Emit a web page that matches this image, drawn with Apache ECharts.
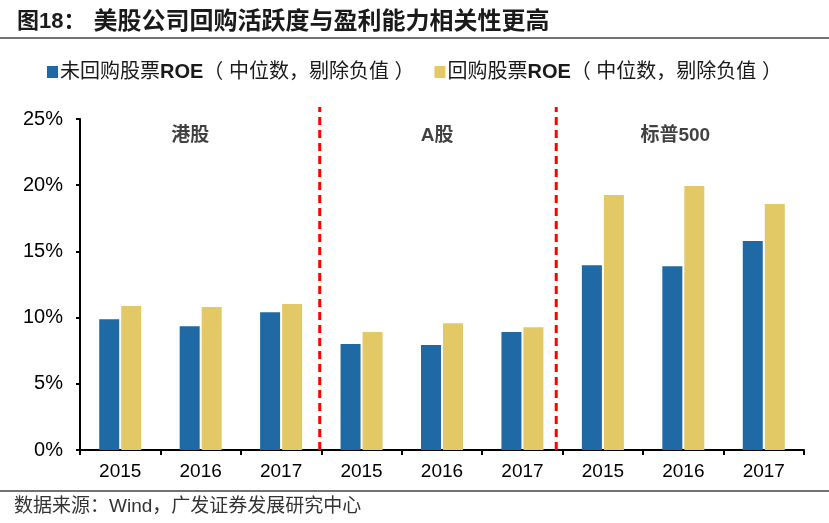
<!DOCTYPE html>
<html><head><meta charset="utf-8">
<script src="https://cdn.jsdelivr.net/npm/echarts@6/dist/echarts.min.js"></script>
<style>html,body{margin:0;padding:0;background:#fff}#c{width:829px;height:523px}</style>
</head><body><div id="c"></div>
<script>
const categories = ['2015','2016','2017','2015','2016','2017','2015','2016','2017'];
const noBuyback = [9.87, 9.34, 10.4, 8.0, 7.93, 8.91, 13.95, 13.87, 15.79];
const buyback = [10.88, 10.8, 11.03, 8.91, 9.57, 9.27, 19.26, 19.94, 18.58];
const seriesNames = ['未回购股票ROE（中位数，剔除负值）', '回购股票ROE（中位数，剔除负值）'];
const groupNames = ['港股', 'A股', '标普500'];
const groupPos = [1.37, 4.44, 7.4];
const dividerPos = [2.98, 5.92];
const yTicks = [0, 5, 10, 15, 20, 25];

const cjk = '"Liberation Sans", "Noto Sans CJK SC", sans-serif';
const chart = echarts.init(document.getElementById('c'), null, {renderer: 'canvas'});
const dividerSeries = dividerPos.map(p => ({
  type: 'line', xAxisIndex: 1, yAxisIndex: 1, clip: false, symbol: 'none', silent: true,
  data: [[p, 0], [p, 25.9]],
  lineStyle: {color: '#ff0000', width: 3, type: [8, 5]}, z: 5
}));
function legendFmt(name) {
  const parts = name.split('ROE');
  return parts[0] + '{b|ROE}' + parts[1].replace('（', '（ ').replace('）', ' ）');
}
chart.setOption({
  animation: false,
  backgroundColor: '#fff',
  title: {
    text: '图18：{t|美股公司回购活跃度与盈利能力相关性更高}',
    left: 12, top: 5,
    textStyle: {fontSize: 22, fontWeight: 'bold', color: '#1a1a1a', fontFamily: cjk,
      rich: {t: {fontSize: 24, fontWeight: 'bold', color: '#1a1a1a', fontFamily: cjk, padding: [0, 0, 0, 8]}}}
  },
  legend: {
    top: 57, left: 42, itemGap: 20, itemWidth: 11, itemHeight: 12,
    formatter: legendFmt,
    textStyle: {fontSize: 20, color: '#1a1a1a', fontFamily: cjk, padding: [0, 0, 0, -3],
      rich: {b: {fontSize: 20, fontWeight: 'bold', color: '#1a1a1a', fontFamily: cjk}}},
    data: seriesNames.map(n => ({name: n, icon: 'rect'}))
  },
  grid: {left: 80, right: 25, top: 119, bottom: 73, containLabel: false},
  xAxis: [{
    type: 'category', data: categories,
    axisLine: {lineStyle: {color: '#000', width: 2}},
    axisTick: {show: true, length: 5, lineStyle: {color: '#000', width: 2}},
    axisLabel: {fontSize: 19, color: '#000', margin: 12, fontFamily: '"Liberation Sans", Arial, sans-serif'}
  }, {
    type: 'value', min: 0, max: 9, show: false
  }],
  yAxis: [{
    type: 'value', min: 0, max: 25, interval: 5,
    axisLine: {show: true, lineStyle: {color: '#000', width: 2}},
    axisTick: {show: true, length: 4, lineStyle: {color: '#000', width: 2}},
    splitLine: {show: false},
    axisLabel: {fontSize: 20, color: '#000', margin: 17, fontFamily: '"Liberation Sans", Arial, sans-serif',
      formatter: v => yTicks.includes(v) ? v + '%' : ''}
  }, {
    type: 'value', min: 0, max: 25, show: false
  }],
  series: [{
    name: seriesNames[0], type: 'bar', data: noBuyback, barWidth: 20, barGap: '10%',
    itemStyle: {color: '#1f6aa4'}
  }, {
    name: seriesNames[1], type: 'bar', data: buyback, barWidth: 20,
    itemStyle: {color: '#e3c866'}
  }, ...dividerSeries, {
    type: 'scatter', xAxisIndex: 1, yAxisIndex: 1, symbolSize: 0, silent: true,
    data: groupNames.map((g, i) => ({value: [groupPos[i], 23.7], name: g})),
    label: {show: true, position: 'inside', formatter: p => p.name, fontSize: 19, fontWeight: 'bold',
      color: '#111', fontFamily: cjk}
  }],
  graphic: [
    {type: 'line', shape: {x1: 0, y1: 38, x2: 829, y2: 38}, style: {stroke: '#444', lineWidth: 1.5}},
    {type: 'line', shape: {x1: 0, y1: 491, x2: 829, y2: 491}, style: {stroke: '#444', lineWidth: 1.5}},
    {type: 'text', left: 14, top: 497, style: {text: '数据来源：Wind，广发证券发展研究中心', fontSize: 19, fill: '#333', fontFamily: cjk}}
  ]
});
</script></body></html>
